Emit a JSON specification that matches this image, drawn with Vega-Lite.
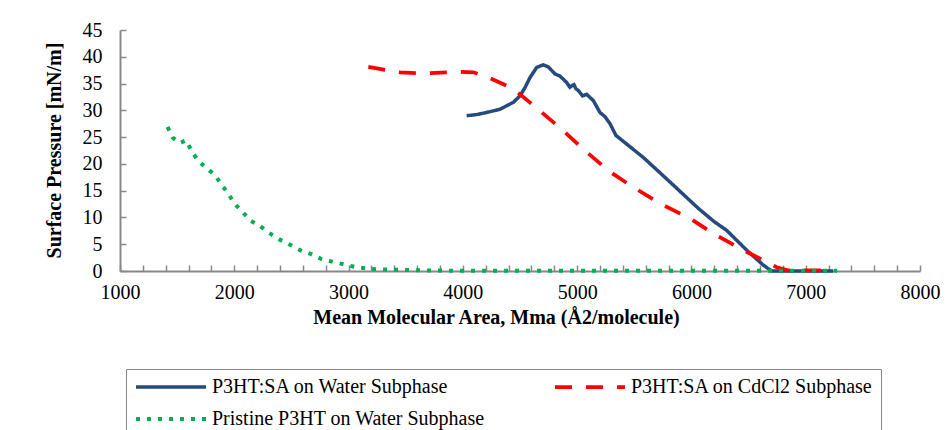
{
  "$schema": "https://vega.github.io/schema/vega-lite/v6.json",
  "width": 800,
  "height": 241,
  "autosize": {"type": "none"},
  "padding": {"left": 120, "top": 30, "right": 26, "bottom": 159},
  "background": "white",
  "config": {
    "view": {"stroke": null},
    "font": "Liberation Serif",
    "axis": {"labelFont": "Liberation Serif", "titleFont": "Liberation Serif", "labelColor": "#000", "titleColor": "#000", "grid": false, "domainColor": "#888888", "domainWidth": 2, "tickColor": "#888888", "tickWidth": 1.5},
    "legend": {"labelFont": "Liberation Serif", "labelColor": "#000"}
  },
  "data": {
    "values": [
      {"series": "P3HT:SA on Water Subphase", "area": 4033, "pressure": 29.0},
      {"series": "P3HT:SA on Water Subphase", "area": 4120, "pressure": 29.2},
      {"series": "P3HT:SA on Water Subphase", "area": 4208, "pressure": 29.6},
      {"series": "P3HT:SA on Water Subphase", "area": 4325, "pressure": 30.2},
      {"series": "P3HT:SA on Water Subphase", "area": 4442, "pressure": 31.5},
      {"series": "P3HT:SA on Water Subphase", "area": 4500, "pressure": 32.7},
      {"series": "P3HT:SA on Water Subphase", "area": 4545, "pressure": 34.3},
      {"series": "P3HT:SA on Water Subphase", "area": 4587, "pressure": 36.1},
      {"series": "P3HT:SA on Water Subphase", "area": 4646, "pressure": 38.0},
      {"series": "P3HT:SA on Water Subphase", "area": 4704, "pressure": 38.5},
      {"series": "P3HT:SA on Water Subphase", "area": 4748, "pressure": 38.1},
      {"series": "P3HT:SA on Water Subphase", "area": 4806, "pressure": 36.8},
      {"series": "P3HT:SA on Water Subphase", "area": 4850, "pressure": 36.4},
      {"series": "P3HT:SA on Water Subphase", "area": 4908, "pressure": 35.2},
      {"series": "P3HT:SA on Water Subphase", "area": 4937, "pressure": 34.3},
      {"series": "P3HT:SA on Water Subphase", "area": 4955, "pressure": 34.6},
      {"series": "P3HT:SA on Water Subphase", "area": 4972, "pressure": 34.8},
      {"series": "P3HT:SA on Water Subphase", "area": 4990, "pressure": 34.0},
      {"series": "P3HT:SA on Water Subphase", "area": 5010, "pressure": 33.7},
      {"series": "P3HT:SA on Water Subphase", "area": 5048, "pressure": 32.7},
      {"series": "P3HT:SA on Water Subphase", "area": 5083, "pressure": 33.0},
      {"series": "P3HT:SA on Water Subphase", "area": 5142, "pressure": 31.8},
      {"series": "P3HT:SA on Water Subphase", "area": 5200, "pressure": 29.6},
      {"series": "P3HT:SA on Water Subphase", "area": 5244, "pressure": 28.8},
      {"series": "P3HT:SA on Water Subphase", "area": 5288, "pressure": 27.5},
      {"series": "P3HT:SA on Water Subphase", "area": 5340, "pressure": 25.3},
      {"series": "P3HT:SA on Water Subphase", "area": 5433, "pressure": 23.7},
      {"series": "P3HT:SA on Water Subphase", "area": 5579, "pressure": 21.2},
      {"series": "P3HT:SA on Water Subphase", "area": 5783, "pressure": 17.2},
      {"series": "P3HT:SA on Water Subphase", "area": 6060, "pressure": 11.7},
      {"series": "P3HT:SA on Water Subphase", "area": 6200, "pressure": 9.2},
      {"series": "P3HT:SA on Water Subphase", "area": 6308, "pressure": 7.6},
      {"series": "P3HT:SA on Water Subphase", "area": 6483, "pressure": 3.9},
      {"series": "P3HT:SA on Water Subphase", "area": 6629, "pressure": 1.1},
      {"series": "P3HT:SA on Water Subphase", "area": 6702, "pressure": 0.0},
      {"series": "P3HT:SA on Water Subphase", "area": 7000, "pressure": 0.0},
      {"series": "P3HT:SA on Water Subphase", "area": 7240, "pressure": 0.0},
      {"series": "P3HT:SA on CdCl2 Subphase", "area": 3173, "pressure": 38.1},
      {"series": "P3HT:SA on CdCl2 Subphase", "area": 3363, "pressure": 37.4},
      {"series": "P3HT:SA on CdCl2 Subphase", "area": 3450, "pressure": 37.1},
      {"series": "P3HT:SA on CdCl2 Subphase", "area": 3654, "pressure": 36.9},
      {"series": "P3HT:SA on CdCl2 Subphase", "area": 3858, "pressure": 37.1},
      {"series": "P3HT:SA on CdCl2 Subphase", "area": 3975, "pressure": 37.2},
      {"series": "P3HT:SA on CdCl2 Subphase", "area": 4092, "pressure": 37.1},
      {"series": "P3HT:SA on CdCl2 Subphase", "area": 4208, "pressure": 36.3},
      {"series": "P3HT:SA on CdCl2 Subphase", "area": 4383, "pressure": 34.6},
      {"series": "P3HT:SA on CdCl2 Subphase", "area": 4500, "pressure": 33.0},
      {"series": "P3HT:SA on CdCl2 Subphase", "area": 4675, "pressure": 29.9},
      {"series": "P3HT:SA on CdCl2 Subphase", "area": 4879, "pressure": 26.2},
      {"series": "P3HT:SA on CdCl2 Subphase", "area": 5083, "pressure": 22.2},
      {"series": "P3HT:SA on CdCl2 Subphase", "area": 5288, "pressure": 18.5},
      {"series": "P3HT:SA on CdCl2 Subphase", "area": 5480, "pressure": 15.8},
      {"series": "P3HT:SA on CdCl2 Subphase", "area": 5725, "pressure": 12.6},
      {"series": "P3HT:SA on CdCl2 Subphase", "area": 5990, "pressure": 9.8},
      {"series": "P3HT:SA on CdCl2 Subphase", "area": 6192, "pressure": 7.0},
      {"series": "P3HT:SA on CdCl2 Subphase", "area": 6425, "pressure": 4.2},
      {"series": "P3HT:SA on CdCl2 Subphase", "area": 6658, "pressure": 1.7},
      {"series": "P3HT:SA on CdCl2 Subphase", "area": 6746, "pressure": 0.7},
      {"series": "P3HT:SA on CdCl2 Subphase", "area": 6850, "pressure": 0.1},
      {"series": "P3HT:SA on CdCl2 Subphase", "area": 7000, "pressure": 0.1},
      {"series": "P3HT:SA on CdCl2 Subphase", "area": 7240, "pressure": 0.1},
      {"series": "Pristine P3HT on Water Subphase", "area": 1417, "pressure": 26.9},
      {"series": "Pristine P3HT on Water Subphase", "area": 1461, "pressure": 24.9},
      {"series": "Pristine P3HT on Water Subphase", "area": 1525, "pressure": 23.9},
      {"series": "Pristine P3HT on Water Subphase", "area": 1578, "pressure": 24.4},
      {"series": "Pristine P3HT on Water Subphase", "area": 1627, "pressure": 22.4},
      {"series": "Pristine P3HT on Water Subphase", "area": 1683, "pressure": 20.6},
      {"series": "Pristine P3HT on Water Subphase", "area": 1758, "pressure": 19.2},
      {"series": "Pristine P3HT on Water Subphase", "area": 1831, "pressure": 17.9},
      {"series": "Pristine P3HT on Water Subphase", "area": 1890, "pressure": 16.1},
      {"series": "Pristine P3HT on Water Subphase", "area": 1948, "pressure": 14.4},
      {"series": "Pristine P3HT on Water Subphase", "area": 2005, "pressure": 12.5},
      {"series": "Pristine P3HT on Water Subphase", "area": 2073, "pressure": 11.0},
      {"series": "Pristine P3HT on Water Subphase", "area": 2143, "pressure": 9.4},
      {"series": "Pristine P3HT on Water Subphase", "area": 2225, "pressure": 8.4},
      {"series": "Pristine P3HT on Water Subphase", "area": 2306, "pressure": 7.1},
      {"series": "Pristine P3HT on Water Subphase", "area": 2394, "pressure": 5.9},
      {"series": "Pristine P3HT on Water Subphase", "area": 2488, "pressure": 4.9},
      {"series": "Pristine P3HT on Water Subphase", "area": 2575, "pressure": 3.9},
      {"series": "Pristine P3HT on Water Subphase", "area": 2668, "pressure": 3.2},
      {"series": "Pristine P3HT on Water Subphase", "area": 2765, "pressure": 2.2},
      {"series": "Pristine P3HT on Water Subphase", "area": 2867, "pressure": 1.7},
      {"series": "Pristine P3HT on Water Subphase", "area": 2969, "pressure": 1.2},
      {"series": "Pristine P3HT on Water Subphase", "area": 3065, "pressure": 0.7},
      {"series": "Pristine P3HT on Water Subphase", "area": 3167, "pressure": 0.45},
      {"series": "Pristine P3HT on Water Subphase", "area": 3275, "pressure": 0.3},
      {"series": "Pristine P3HT on Water Subphase", "area": 3475, "pressure": 0.2},
      {"series": "Pristine P3HT on Water Subphase", "area": 3683, "pressure": 0.1},
      {"series": "Pristine P3HT on Water Subphase", "area": 4000, "pressure": 0.05},
      {"series": "Pristine P3HT on Water Subphase", "area": 5000, "pressure": 0.05},
      {"series": "Pristine P3HT on Water Subphase", "area": 6000, "pressure": 0.05},
      {"series": "Pristine P3HT on Water Subphase", "area": 7000, "pressure": 0.05},
      {"series": "Pristine P3HT on Water Subphase", "area": 7275, "pressure": 0.05}
    ]
  },
  "mark": {"type": "line", "strokeCap": "butt", "clip": false},
  "encoding": {
    "x": {
      "field": "area", "type": "quantitative",
      "scale": {"domain": [1000, 8000], "nice": false, "zero": false},
      "axis": {
        "title": "Mean Molecular Area, Mma (Å2/molecule)",
        "values": [1000,1200,1400,1600,1800,2000,2200,2400,2600,2800,3000,3200,3400,3600,3800,4000,4200,4400,4600,4800,5000,5200,5400,5600,5800,6000,6200,6400,6600,6800,7000,7200,7400,7600,7800,8000],
        "format": "d",
        "labelExpr": "datum.value % 1000 === 0 ? datum.label : ''",
        "labelFlush": false,
        "labelOverlap": false,
        "labelFontSize": 20,
        "labelBaseline": "middle",
        "labelPadding": 27,
        "tickSize": -6,
        "titleFontSize": 20,
        "titleFontWeight": "bold",
        "titleX": 376,
        "titleY": 46,
        "titleAnchor": null,
        "titleAlign": "center",
        "titleBaseline": "middle"
      }
    },
    "y": {
      "field": "pressure", "type": "quantitative",
      "scale": {"domain": [0, 45], "nice": false},
      "axis": {
        "title": "Surface Pressure [mN/m]",
        "values": [0,5,10,15,20,25,30,35,40,45],
        "labelFontSize": 20,
        "labelPadding": 24,
        "tickSize": -6,
        "titleFontSize": 20,
        "titleFontWeight": "bold",
        "titleX": -66,
        "titleY": 120,
        "titleAngle": -90,
        "titleAlign": "center",
        "titleBaseline": "middle"
      }
    },
    "color": {
      "field": "series", "type": "nominal",
      "scale": {"domain": ["P3HT:SA on Water Subphase", "P3HT:SA on CdCl2 Subphase", "Pristine P3HT on Water Subphase"], "range": ["#254a7d", "#ff0000", "#00b050"]},
      "legend": {
        "title": null,
        "orient": "none",
        "legendX": 6,
        "legendY": 339,
        "direction": "horizontal",
        "columns": 2,
        "columnPadding": 68,
        "rowPadding": 12,
        "clipHeight": 20,
        "labelFontSize": 20,
        "labelLimit": 400,
        "labelOffset": 4,
        "symbolType": "stroke",
        "symbolSize": 4900,
        "symbolStrokeWidth": 4,
        "strokeColor": "#888888",
        "padding": 8
      }
    },
    "strokeDash": {
      "field": "series", "type": "nominal",
      "scale": {"domain": ["P3HT:SA on Water Subphase", "P3HT:SA on CdCl2 Subphase", "Pristine P3HT on Water Subphase"], "range": [[1, 0], [17, 14], [4, 7]]},
      "legend": {
        "title": null,
        "orient": "none",
        "legendX": 6,
        "legendY": 339,
        "direction": "horizontal",
        "columns": 2,
        "columnPadding": 68,
        "rowPadding": 12,
        "clipHeight": 20,
        "labelFontSize": 20,
        "labelLimit": 400,
        "labelOffset": 4,
        "symbolType": "stroke",
        "symbolSize": 4900,
        "symbolStrokeWidth": 4,
        "strokeColor": "#888888",
        "padding": 8
      }
    },
    "strokeWidth": {
      "field": "series", "type": "nominal",
      "scale": {"domain": ["P3HT:SA on Water Subphase", "P3HT:SA on CdCl2 Subphase", "Pristine P3HT on Water Subphase"], "range": [3.5, 4, 4.5]},
      "legend": null
    }
  }
}
